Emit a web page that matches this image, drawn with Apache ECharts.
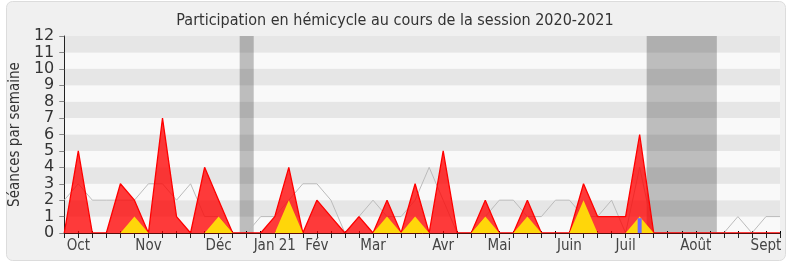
<!DOCTYPE html>
<html>
<head>
<meta charset="utf-8">
<script src="https://cdn.jsdelivr.net/npm/echarts@6/dist/echarts.min.js"></script>
<style>
html,body{margin:0;padding:0;background:#ffffff;}
#chart{width:790px;height:267px;}
</style>
</head>
<body>
<div id="chart"></div>
<script>
// Week indexes 0..51 (session 2020-2021)
const weeks = Array.from({length: 52}, (_, i) => i);
const monthWeeks = [1, 6, 11, 15, 18, 22, 27, 31, 36, 40, 45, 50];
const monthNames = ['Oct', 'Nov', 'Déc', 'Jan 21', 'Fév', 'Mar', 'Avr', 'Mai', 'Juin', 'Juil', 'Août', 'Sept'];
// séances de présence (rouge)
const presence = [0,5,0,0,3,2,0,7,1,0,4,2,0,0,0,1,4,0,2,1,0,1,0,2,0,3,0,5,0,0,2,0,0,2,0,0,0,3,1,1,1,6,0,0,0,0,0,0,0,0,0,0];
// interventions (jaune)
const interventions = [0,0,0,0,0,1,0,0,0,0,0,1,0,0,0,0,2,0,0,0,0,0,0,1,0,1,0,0,0,0,1,0,0,1,0,0,0,2,0,0,0,1,0,0,0,0,0,0,0,0,0,0];
// médiane des députés (gris)
const mediane = [2,3,2,2,2,2,3,3,2,3,1,1,0,0,1,1,2,3,3,2,0,1,2,1,1,2,4,2,0,0,1,2,2,1,1,2,2,1,1,2,0,4,0,0,0,0,0,0,1,0,1,1];
// questions orales (bleu)
const questionsWeeks = [41];
const questionsValues = [0.9];
// vacances parlementaires (début, fin) en semaines
const vacances = [[12.5, 13.5], [41.5, 46.5]];
const yTicks = [0,1,2,3,4,5,6,7,8,9,10,11,12];

const FONT = "'DejaVu Sans Condensed', 'DejaVu Sans', sans-serif";
const FONT_WIDE = "'DejaVu Sans', sans-serif";
const labelMap = {};
monthWeeks.forEach((w, k) => { labelMap[w] = monthNames[k]; });

const chart = echarts.init(document.getElementById('chart'), null, {renderer: 'canvas'});
chart.setOption({
  animation: false,
  backgroundColor: 'transparent',
  textStyle: {fontFamily: FONT},
  graphic: [{
    type: 'rect', z: -10, silent: true,
    shape: {x: 6.5, y: 1.5, width: 779, height: 259, r: 6},
    style: {fill: '#f0f0f0', stroke: '#dcdcdc', lineWidth: 1}
  }],
  title: {
    text: 'Participation en hémicycle au cours de la session 2020-2021',
    left: 'center', top: 8,
    textStyle: {fontFamily: FONT, fontSize: 16, fontWeight: 'normal', color: '#333'}
  },
  grid: {left: 62, right: 10, top: 36, bottom: 34},
  xAxis: [{
    type: 'value', min: 0, max: weeks.length - 1, interval: 1, z: 10,
    axisLine: {show: true, onZero: false, lineStyle: {color: '#5a0a0a', width: 1}},
    axisTick: {show: true, length: 5, lineStyle: {color: '#222'}},
    axisLabel: {
      show: true, margin: 6, fontFamily: FONT, fontSize: 15, color: '#444',
      showMinLabel: true, showMaxLabel: true,
      formatter: v => labelMap[v] || ''
    },
    splitLine: {show: false}
  }, {
    type: 'value', position: 'top', min: 0, max: weeks.length - 1, interval: 1,
    axisLine: {show: false},
    axisTick: {show: true, length: 2, lineStyle: {color: '#000'}},
    axisLabel: {show: false},
    splitLine: {show: false}
  }],
  yAxis: {
    type: 'value', min: yTicks[0], max: yTicks[yTicks.length - 1], interval: 1,
    name: 'Séances par semaine', nameLocation: 'middle', nameGap: 40,
    nameTextStyle: {fontFamily: FONT, fontSize: 15, color: '#333'},
    axisLine: {show: true, lineStyle: {color: '#222'}},
    axisTick: {show: true, length: 5, lineStyle: {color: '#888'}},
    axisLabel: {margin: 10, fontFamily: FONT_WIDE, fontSize: 16, color: '#333'},
    splitLine: {show: false},
    splitArea: {show: true, areaStyle: {color: ['#f9f9f9', '#e6e6e6']}}
  },
  series: [{
    type: 'line', name: 'vacances', data: [], z: 1,
    markArea: {
      silent: true,
      itemStyle: {color: 'rgba(0,0,0,0.24)'},
      data: vacances.map(v => [{xAxis: v[0]}, {xAxis: v[1]}])
    }
  }, {
    type: 'line', name: 'médiane', z: 2,
    data: weeks.map((w, i) => [w, mediane[i]]),
    symbol: 'none',
    lineStyle: {color: '#bbbbbb', width: 1}
  }, {
    type: 'line', name: 'présence', z: 3,
    data: weeks.map((w, i) => [w, presence[i]]),
    symbol: 'none',
    lineStyle: {color: '#ff0000', width: 1.3},
    areaStyle: {color: '#ff0000', opacity: 0.77, origin: 'start'}
  }, {
    type: 'line', name: 'interventions', z: 4,
    data: weeks.map((w, i) => [w, interventions[i]]),
    symbol: 'none',
    lineStyle: {color: '#ffd700', width: 0},
    areaStyle: {color: '#ffd60a', opacity: 1, origin: 'start'}
  }, {
    type: 'bar', name: 'questions', z: 5,
    data: questionsWeeks.map((w, i) => [w, questionsValues[i]]),
    barWidth: 4,
    itemStyle: {color: '#6b6bff'}
  }]
});
</script>
</body>
</html>
